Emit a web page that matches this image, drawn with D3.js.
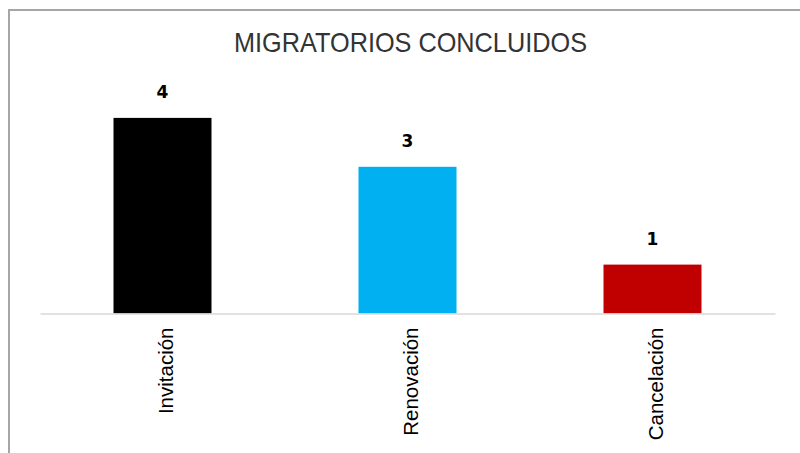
<!DOCTYPE html>
<html>
<head>
<meta charset="utf-8">
<script src="https://cdn.jsdelivr.net/npm/d3@7/dist/d3.min.js"></script>
<style>
  html, body { margin: 0; padding: 0; background: #ffffff; }
  svg { display: block; }
</style>
</head>
<body>
<svg id="chart" width="800" height="453"></svg>
<script>
// Chart data
const categories = ["Invitación", "Renovación", "Cancelación"];
const values = [4, 3, 1];
const barColors = ["#000000", "#00b0f0", "#c00000"];
const chartTitle = "MIGRATORIOS CONCLUIDOS";

const svg = d3.select("#chart");
const W = 800, H = 453;

// Outer frame (the right and bottom edges fall outside the view)
svg.append("rect")
  .attr("x", 9).attr("y", 10)
  .attr("width", W + 20).attr("height", H + 20)
  .attr("fill", "#ffffff")
  .attr("stroke", "#a6a6a6")
  .attr("stroke-width", 2);

// Scales
const x = d3.scaleBand()
  .domain(categories)
  .range([40, 775])
  .paddingInner(0.6)
  .paddingOuter(0.3);

const y = d3.scaleLinear()
  .domain([0, 5])
  .range([313.5, 69]);

// Title
svg.append("text")
  .attr("x", 410.5)
  .attr("y", 52)
  .attr("text-anchor", "middle")
  .attr("font-family", "'Liberation Sans Narrow', 'Liberation Sans', Arial, sans-serif")
  .attr("font-size", 28)
  .attr("fill", "#333333")
  .attr("textLength", 353)
  .attr("lengthAdjust", "spacingAndGlyphs")
  .text(chartTitle);

const data = categories.map((c, i) => ({ cat: c, value: values[i], color: barColors[i] }));

// Bars
svg.append("g")
  .selectAll("rect")
  .data(data)
  .join("rect")
  .attr("x", d => x(d.cat))
  .attr("y", d => y(d.value))
  .attr("width", x.bandwidth())
  .attr("height", d => y(0) - y(d.value))
  .attr("fill", d => d.color);

// Category axis
const xAxis = svg.append("g")
  .attr("transform", `translate(0,${y(0)})`)
  .call(d3.axisBottom(x).tickSize(0).tickPadding(0));
xAxis.select(".domain")
  .attr("stroke", "#d9d9d9")
  .attr("stroke-width", 1.5);
xAxis.selectAll(".tick text")
  .attr("font-family", "'Liberation Sans', Arial, sans-serif")
  .attr("font-size", 20.5)
  .attr("fill", "#000000")
  .attr("text-anchor", "end")
  .attr("dy", null)
  .attr("y", null)
  .attr("transform", "translate(10,14) rotate(-90)");

// Value labels
svg.append("g")
  .selectAll("text")
  .data(data)
  .join("text")
  .attr("x", d => x(d.cat) + x.bandwidth() / 2)
  .attr("y", d => y(d.value) - 19.5)
  .attr("text-anchor", "middle")
  .style("font-family", "'DejaVu Sans', Verdana, sans-serif")
  .style("font-weight", "bold")
  .style("font-size", "17px")
  .attr("fill", "#000000")
  .text(d => d.value);
</script>
</body>
</html>
